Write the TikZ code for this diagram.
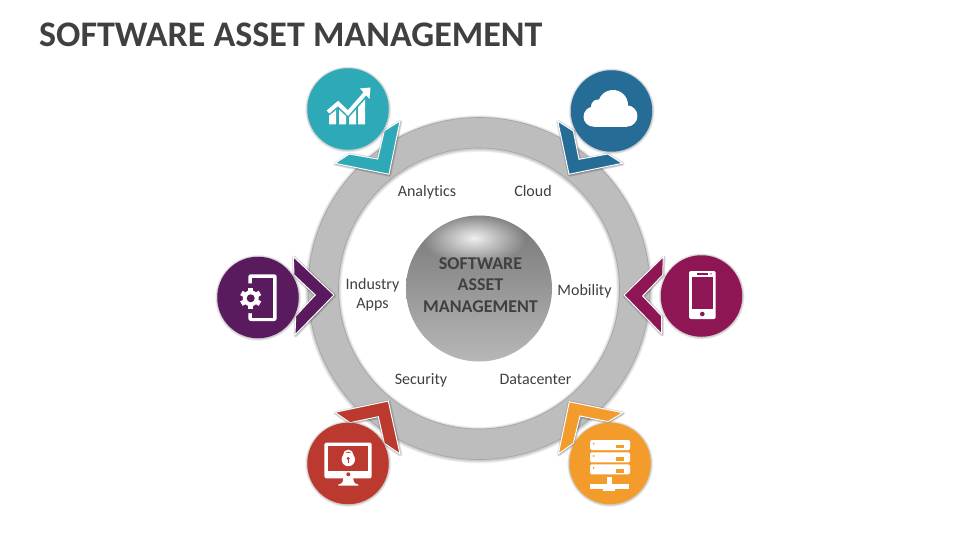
\documentclass[tikz,border=0pt]{standalone}
\usepackage{fontspec}
\setmainfont[Ligatures=NoCommon]{Carlito}
\usetikzlibrary{fadings}
\definecolor{cteal}{HTML}{2DA9B8}
\definecolor{cblue}{HTML}{256D97}
\definecolor{cpurple}{HTML}{5A1A5E}
\definecolor{cmag}{HTML}{8F1654}
\definecolor{cred}{HTML}{BC392F}
\definecolor{corange}{HTML}{F39C2C}
\definecolor{ctext}{HTML}{404040}
\tikzfading[name=glowfade, inner color=transparent!0, outer color=transparent!100]
\tikzset{
  chev/.style={draw=white, line width=1pt, line join=miter},
  chevsh/.style={draw=black, fill=black, opacity=0.09, line join=round},
  disc/.style={circle, minimum size=81.5pt, inner sep=0pt},
  lbl/.style={font=\fontsize{16}{19}\selectfont, text=ctext, align=center, inner sep=0pt},
  ico/.style={fill=white, draw=none}
}
\newcommand{\chevron}[2]{%
  \foreach \w in {4,2.7,1.4}{\path[chevsh, line width=\w pt, xshift=0.4pt, yshift=-0.6pt] #2;}
  \path[chev, fill=#1] #2;}
\newcommand{\discn}[3]{%
  \foreach \d in {2.1,1.4,0.7}{\fill[black, opacity=0.07] (#3)++(0.2,0.4) circle (40.75+\d);}
  \node[name=#1, disc, fill=#2] at (#3) {};}
\begin{document}
\begin{tikzpicture}[x=1pt,y=-1pt]
\useasboundingbox (0,0) rectangle (960,540);
\fill[white] (0,0) rectangle (960,540);
\node[name=title, anchor=west, inner sep=0pt, text=ctext, font=\fontsize{36}{40}\selectfont\bfseries] at (39,34.5) {SOFTWARE ASSET MANAGEMENT};
% ring with soft shadow
\foreach \d in {3,2.2,1.4,0.7}{
  \fill[black, opacity=0.055, even odd rule] (479,289.3) circle (171+\d) (479,289.3) circle (140.5-\d);}
\fill[black!26, draw=black!36, line width=0.6pt, even odd rule] (479,288.5) circle (171) (479,288.5) circle (140.5);
% centre sphere
\begin{scope}
\clip (479,288.5) circle (73);
\shade[top color=black!54, bottom color=black!28] (406,215) rectangle (552,362);
\fill[white, opacity=0.88, path fading=glowfade] (474,238) ellipse (52 and 26);
\end{scope}
\node[name=hub, lbl, font=\fontsize{18}{21.5}\selectfont\bfseries] at (480.5,285) {SOFTWARE\\ASSET\\MANAGEMENT};
% labels
\node[name=l1, lbl] at (427,192.5) {Analytics};
\node[name=l2, lbl] at (533,191) {Cloud};
\node[name=l3, lbl] at (372.5,295) {Industry\\Apps};
\node[name=l4, lbl] at (584.5,291.5) {Mobility};
\node[name=l5, lbl] at (421,380.5) {Security};
\node[name=l6, lbl] at (535.5,379.5) {Datacenter};
% chevrons
\chevron{cteal}{(400,121) -- (384.3,130.7) -- (377.7,159) -- (349.3,154) -- (335,163.3) -- (389,174.3) -- cycle}
\chevron{cblue}{(557.7,121) -- (573.3,131) -- (579,159.3) -- (607.7,154) -- (622.3,163.3) -- (569,174.3) -- cycle}
\chevron{cpurple}{(293.3,256.7) -- (334,295) -- (295,335) -- (295.7,316) -- (315.3,295) -- (294,275) -- cycle}
\chevron{cmag}{(663.3,256.7) -- (624,295) -- (661.7,334) -- (661.7,316) -- (642.7,296) -- (662.7,275) -- cycle}
\chevron{cred}{(335,412.3) -- (388.3,401) -- (400,454) -- (384.3,443.3) -- (378.3,416.7) -- (350,422.7) -- cycle}
\chevron{corange}{(569.3,401.7) -- (622.7,412.7) -- (608.3,421.7) -- (580,416) -- (573.3,443.3) -- (558.3,454) -- cycle}
% discs
\discn{d1}{cteal}{348,109}
\discn{d2}{cblue}{611.5,111}
\discn{d3}{cpurple}{258,297.5}
\discn{d4}{cmag}{701.5,296}
\discn{d5}{cred}{348,463.5}
\discn{d6}{corange}{610,463.5}
% analytics icon
\fill[ico] (329,115) -- (336,109.5) -- (336,124.5) -- (329,124.5) -- cycle;
\fill[ico] (339,109.5) -- (346,115) -- (346,124.5) -- (339,124.5) -- cycle;
\fill[ico] (349,116.5) -- (356,109) -- (356,124.5) -- (349,124.5) -- cycle;
\fill[ico] (358,106) -- (365,98) -- (365,124.5) -- (358,124.5) -- cycle;
\draw[cteal, line width=7pt, line join=miter] (326,113.5) -- (338,103.5) -- (348,113) -- (365,94);
\draw[white, line width=4pt, line join=miter] (328,112) -- (338,103.5) -- (348,113) -- (366,92.5);
\fill[ico] (360,88.5) -- (370.5,87.5) -- (369.5,99) -- cycle;
% cloud icon
\fill[ico] (593.5,116.7) circle (10);
\fill[ico] (598,106.5) circle (7);
\fill[ico] (613,105) circle (15);
\fill[ico] (626.7,116) circle (10.7);
\fill[ico] (593.5,108) rectangle (627,126.7);
% gear phone icon
\fill[ico, rounded corners=2.5pt] (248.3,274.3) rectangle (276.7,321);
\fill[cpurple] (251.7,277.7) rectangle (273.3,317.6);
\fill[cpurple] (250.7,298.3) circle (15);
\fill[ico] (250.7,298.3) circle (8);
\foreach \a in {0,60,...,300}{\fill[ico, rotate around={\a:(250.7,298.3)}] (248.2,287.6) rectangle (253.2,295);}
\fill[cpurple] (250.7,298.3) circle (4);
% mobile icon
\fill[ico, rounded corners=2pt] (689,271) rectangle (715.7,319);
\fill[cmag] (692.3,276.7) rectangle (712.7,309);
\fill[cmag] (702.3,314) circle (2.3);
\fill[cmag] (697.3,273.2) rectangle (708.3,274.6);
\fill[cmag] (711,273.9) circle (0.8);
% monitor icon
\fill[ico, rounded corners=1.5pt] (324.3,442.7) rectangle (371.7,478.3);
\fill[cred] (327.7,446) rectangle (368.3,470.7);
\fill[cred] (348.3,474.3) circle (2);
\fill[ico] (343.3,478) .. controls (343.3,482) and (342,484) .. (338.3,484.5) -- (338.3,485.7) -- (358.3,485.7) -- (358.3,484.5) .. controls (354.6,484) and (353.3,482) .. (353.3,478) -- cycle;
\draw[white, line width=1.7pt] (348.3,454.8) circle (4.2);
\fill[ico] (348.3,459.5) circle (6.7);
\fill[cred] (348.3,458.5) circle (1.6);
\fill[cred] (347.7,458.5) rectangle (348.9,462.5);
% server icon
\foreach \y in {440,452.3,464.3}{
  \fill[ico, rounded corners=1.5pt] (590,\y) rectangle (630,\y+10);
  \fill[corange] (593.7,\y+3.7) circle (1);
  \fill[corange] (615.7,\y+5) rectangle (624,\y+8.3);
}
\fill[ico] (607.3,477) rectangle (612.3,486);
\fill[ico] (590,484) rectangle (629,489);
\fill[ico] (603,484) rectangle (615,490.5);
\end{tikzpicture}
\end{document}
